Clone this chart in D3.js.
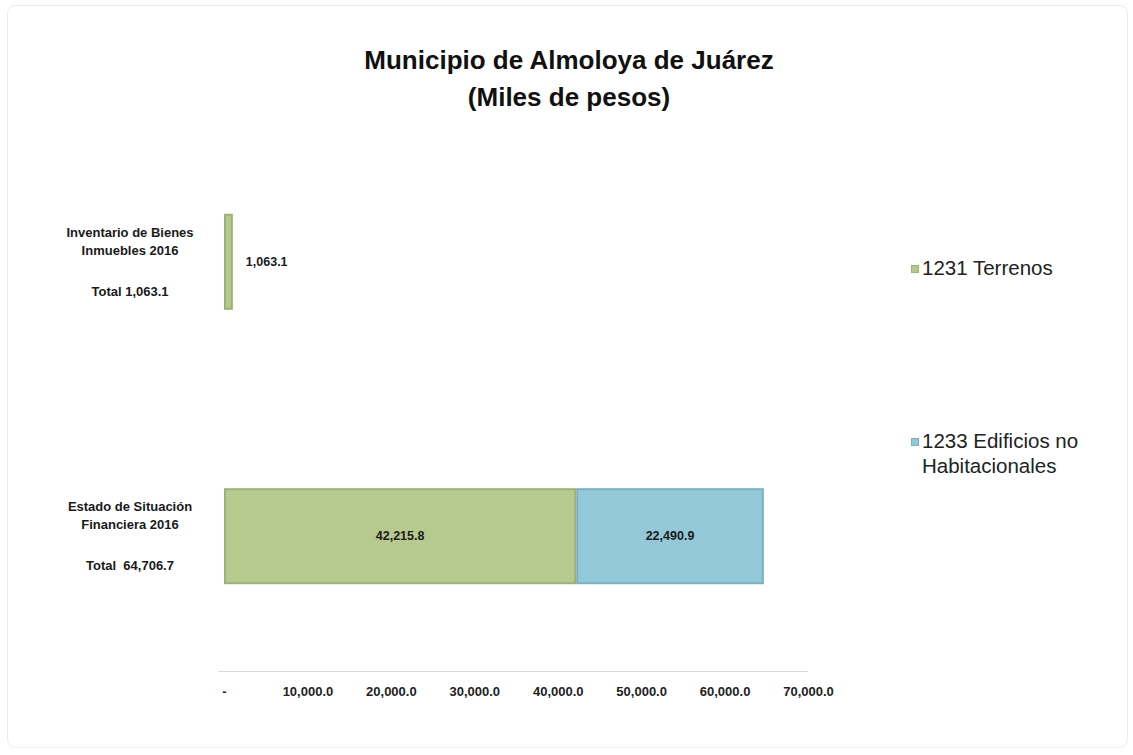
<!DOCTYPE html>
<html>
<head>
<meta charset="utf-8">
<script src="https://cdn.jsdelivr.net/npm/d3@7"></script>
<style>
  body { margin: 0; background: #fff; }
  svg { display: block; font-family: "Liberation Sans", Arial, sans-serif; }
</style>
</head>
<body>
<div id="chart-container"></div>
<script>
// DATA
const categories = ["Inventario de Bienes Inmuebles 2016", "Estado de Situación Financiera 2016"];
const categoryLines = [["Inventario de Bienes", "Inmuebles 2016"], ["Estado de Situación", "Financiera 2016"]];
const categoryTotals = ["Total 1,063.1", "Total  64,706.7"];
const terrenos = [1063.1, 42215.8];
const edificios = [0, 22490.9];
const seriesNames = ["1231 Terrenos", "1233 Edificios no Habitacionales"];
const xTicks = [0, 10000, 20000, 30000, 40000, 50000, 60000, 70000];

const width = 1133,
  height = 755;

const colors = [
  { fill: "#b6c98f", edge: "#9db274" },
  { fill: "#93c8d9", edge: "#7ab1c2" },
];

const svg = d3
  .select("#chart-container")
  .append("svg")
  .attr("width", width)
  .attr("height", height);

// frame
svg
  .append("rect")
  .attr("x", 7.5)
  .attr("y", 5.5)
  .attr("width", 1120)
  .attr("height", 742)
  .attr("rx", 8)
  .attr("fill", "#fff")
  .attr("stroke", "#ececec");

// title
svg
  .append("text")
  .attr("x", 569)
  .attr("y", 69)
  .attr("text-anchor", "middle")
  .attr("font-size", 26)
  .attr("font-weight", "bold")
  .attr("fill", "#111")
  .text("Municipio de Almoloya de Juárez");
svg
  .append("text")
  .attr("x", 569)
  .attr("y", 106)
  .attr("text-anchor", "middle")
  .attr("font-size", 26)
  .attr("font-weight", "bold")
  .attr("fill", "#111")
  .text("(Miles de pesos)");

// SCALES
const xScale = d3.scaleLinear().domain([0, 70000]).range([224, 808]);
const yScale = d3
  .scaleBand()
  .domain(categories)
  .range([104, 694])
  .paddingInner(0.65)
  .paddingOuter(0.4);

// AXIS
const xAxis = d3
  .axisBottom(xScale)
  .tickValues(xTicks)
  .tickSize(0)
  .tickPadding(16)
  .tickFormat((d) => (d === 0 ? "-" : d3.format(",.1f")(d)));

const gx = svg
  .append("g")
  .attr("class", "axis x-axis")
  .attr("transform", "translate(0,671)")
  .call(xAxis);
gx.select(".domain").attr("stroke", "#d9d9d9").attr("d", "M218,0.5H808");
gx.selectAll("text")
  .attr("font-size", 13)
  .attr("font-weight", "bold")
  .attr("font-family", '"Liberation Sans Narrow", "Liberation Sans", Arial, sans-serif')
  .attr("fill", "#222");

// stacked data
const rows = categories.map((c, i) => ({
  cat: c,
  parts: [
    { x0: 0, x1: terrenos[i], v: terrenos[i], s: 0 },
    { x0: terrenos[i], x1: terrenos[i] + edificios[i], v: edificios[i], s: 1 },
  ].filter((p) => p.v > 0),
}));

const row = svg
  .selectAll(".row")
  .data(rows)
  .join("g")
  .attr("class", "row")
  .attr("transform", (d) => `translate(0,${yScale(d.cat)})`);

row
  .selectAll("rect.bar")
  .data((d) => d.parts)
  .join("rect")
  .attr("class", "bar")
  .attr("x", (d) => xScale(d.x0) + 1)
  .attr("y", 1)
  .attr("width", (d) => Math.max(xScale(d.x1) - xScale(d.x0) - 2, 1))
  .attr("height", yScale.bandwidth() - 2)
  .attr("fill", (d) => colors[d.s].fill)
  .attr("stroke", (d) => colors[d.s].edge)
  .attr("stroke-width", 2);

// value labels
row
  .selectAll("text.val")
  .data((d) => d.parts)
  .join("text")
  .attr("class", "val")
  .attr("x", (d) =>
    xScale(d.x1) - xScale(d.x0) < 60 ? xScale(d.x1) + 13 : (xScale(d.x0) + xScale(d.x1)) / 2
  )
  .attr("text-anchor", (d) => (xScale(d.x1) - xScale(d.x0) < 60 ? "start" : "middle"))
  .attr("y", yScale.bandwidth() / 2 + 4)
  .attr("font-size", 12.5)
  .attr("font-weight", "bold")
  .attr("fill", "#1a1a1a")
  .text((d) => d3.format(",.1f")(d.v));

// category labels
const catG = svg
  .selectAll(".cat-label")
  .data(categories)
  .join("g")
  .attr("class", "cat-label")
  .attr("transform", (d) => `translate(130,${yScale(d)})`);

catG.each(function (d, i) {
  const g = d3.select(this);
  categoryLines[i].forEach((line, j) => {
    g.append("text")
      .attr("x", 0)
      .attr("y", 23 + j * 18)
      .attr("text-anchor", "middle")
      .attr("font-size", 13)
      .attr("font-weight", "bold")
      .attr("fill", "#1a1a1a")
      .text(line);
  });
  g.append("text")
    .attr("x", 0)
    .attr("y", 82)
    .attr("text-anchor", "middle")
    .attr("font-size", 13)
    .attr("font-weight", "bold")
    .attr("fill", "#1a1a1a")
    .style("white-space", "pre")
    .text(categoryTotals[i]);
});

// LEGEND
const legendY = [275, 448];
const legend = svg
  .selectAll(".legend")
  .data(seriesNames)
  .join("g")
  .attr("class", "legend")
  .attr("transform", (d, i) => `translate(911,${legendY[i]})`);

legend
  .append("rect")
  .attr("x", 0.5)
  .attr("y", -9.5)
  .attr("width", 7)
  .attr("height", 7)
  .attr("fill", (d, i) => colors[i].fill)
  .attr("stroke", (d, i) => colors[i].edge)
  .attr("stroke-width", 1);

legend.each(function (d, i) {
  const g = d3.select(this);
  const lines = i === 0 ? [d] : ["1233 Edificios no", "Habitacionales"];
  lines.forEach((line, j) => {
    g.append("text")
      .attr("x", 11)
      .attr("y", j * 25)
      .attr("font-size", 20.5)
      .attr("fill", "#222")
      .text(line);
  });
});
</script>
</body>
</html>
